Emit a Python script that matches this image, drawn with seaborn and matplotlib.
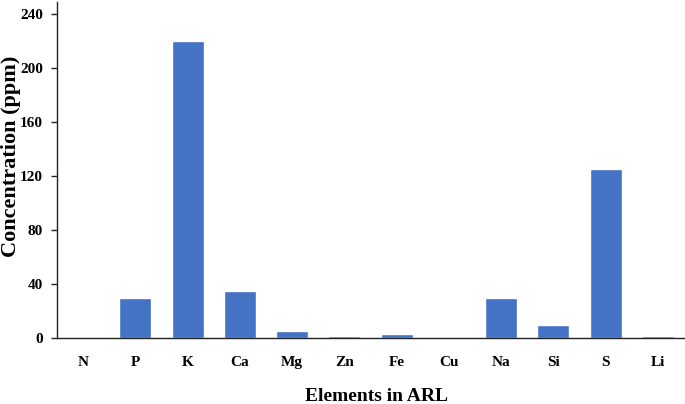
import matplotlib.pyplot as plt
import pandas as pd
import seaborn as sns

elements = ["N", "P", "K", "Ca", "Mg", "Zn", "Fe", "Cu", "Na", "Si", "S", "Li"]
concentration = [0, 30, 220, 35, 5, 1.2, 3, 1, 30, 10, 125, 1.7]
y_ticks = [0, 40, 80, 120, 160, 200, 240]

df = pd.DataFrame({"element": elements, "ppm": concentration})

sns.set_theme(style="white")
plt.rcParams["font.family"] = ["Liberation Serif", "DejaVu Serif"]
plt.rcParams["font.weight"] = "bold"

fig = plt.figure(figsize=(6.85, 4.04), dpi=100)
ax = fig.add_axes([57 / 685, 66 / 404, 627 / 685, 336 / 404])

sns.barplot(data=df, x="element", y="ppm", color="#4472C4", saturation=1,
            width=0.61, ax=ax)

ax.set_ylim(0, 249)
ax.set_yticks(y_ticks)
ax.set_xlim(-0.5, len(elements) - 0.5)

for side in ["top", "right"]:
    ax.spines[side].set_visible(False)
for side in ["left", "bottom"]:
    ax.spines[side].set_color("#222222")
    ax.spines[side].set_linewidth(1.0)

ax.tick_params(axis="y", which="major", direction="out", length=4, width=1,
               color="#222222", left=True, labelsize=11, pad=6)
ax.tick_params(axis="x", bottom=False, labelsize=11, pad=7)
for lab in ax.get_xticklabels() + ax.get_yticklabels():
    lab.set_fontweight("bold")
    lab.set_color("black")

ax.set_xlabel("Elements in ARL", fontsize=14, fontweight="bold", color="black")
ax.set_ylabel("Concentration (ppm)", fontsize=16, fontweight="bold", color="black")
ax.xaxis.set_label_coords(0.51, -0.15)
ax.yaxis.set_label_coords(-0.057, 0.54)

fig.savefig("out.png", dpi=100)
